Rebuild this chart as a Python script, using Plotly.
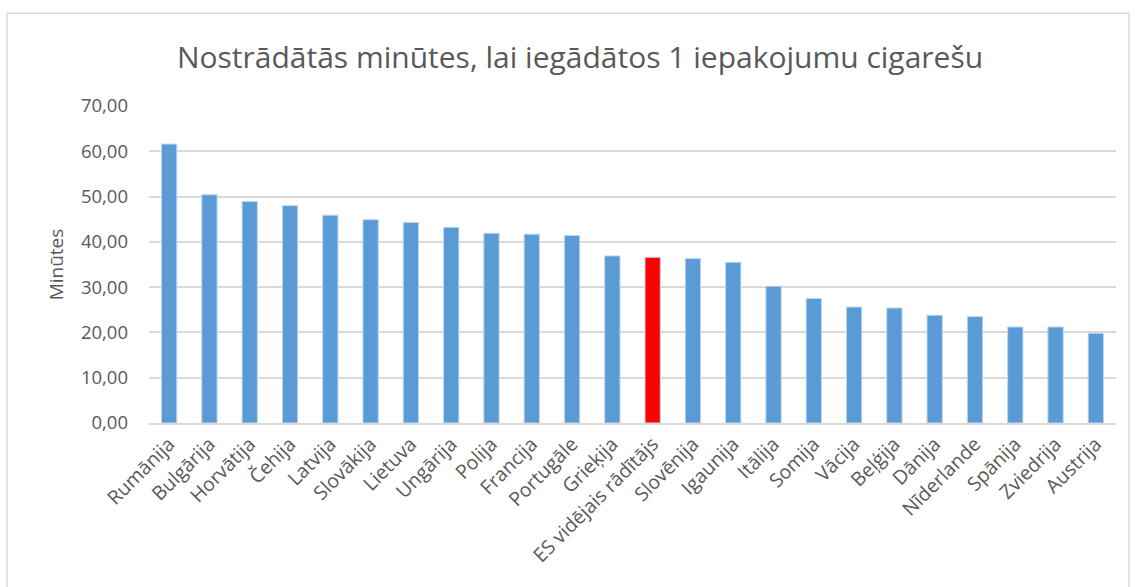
import plotly.graph_objects as go

categories = ["Rumānija", "Bulgārija", "Horvātija", "Čehija", "Latvija", "Slovākija",
              "Lietuva", "Ungārija", "Polija", "Francija", "Portugāle", "Grieķija",
              "ES vidējais rādītājs", "Slovēnija", "Igaunija", "Itālija", "Somija",
              "Vācija", "Beļģija", "Dānija", "Nīderlande", "Spānija", "Zviedrija", "Austrija"]
values = [61.6, 50.4, 48.9, 48.0, 45.9, 44.9, 44.3, 43.2, 41.9, 41.7, 41.4, 36.9,
          36.6, 36.3, 35.5, 30.2, 27.5, 25.6, 25.4, 23.8, 23.5, 21.2, 21.2, 19.8]
highlight = "ES vidējais rādītājs"

colors = ["#FF0000" if c == highlight else "#5B9BD5" for c in categories]

FONT = "Open Sans"
GREY = "#595959"

fig = go.Figure(go.Bar(
    x=categories, y=values,
    marker=dict(color=colors, line=dict(color="#BDD7EE", width=1)),
    width=0.38,
))

L, R, T, B = 149, 19, 106, 163.5
W, H = 1135, 587
pw, ph = W - L - R, H - T - B

fig.update_layout(
    width=W, height=H,
    margin=dict(l=L, r=R, t=T, b=B, autoexpand=False),
    paper_bgcolor="white", plot_bgcolor="white",
    separators=", ",
    showlegend=False,
    title=dict(text="Nostrādātās minūtes, lai iegādātos 1 iepakojumu cigarešu",
               x=580 / W, xanchor="center", xref="container",
               y=1 - 57 / H, yanchor="middle", yref="container",
               font=dict(family=FONT, size=30, color=GREY)),
    font=dict(family=FONT, color=GREY),
    xaxis=dict(tickangle=-45, tickfont=dict(size=19.5, color=GREY),
               showline=True, linecolor="#D9D9D9", linewidth=2,
               ticks="", showgrid=False, automargin=False),
    yaxis=dict(range=[0, 70], dtick=10, tickformat=".2f",
               tickfont=dict(size=18.5, color=GREY),
               gridcolor="#D9D9D9", gridwidth=1.5, zeroline=False,
               ticklabelstandoff=20, automargin=False,
               title=dict(text="Minūtes", font=dict(size=19, color=GREY), standoff=12)),
    shapes=[dict(type="rect", xref="paper", yref="paper",
                 x0=(7 - L) / pw, x1=(1129 - L) / pw,
                 y0=(H - B - 600) / ph, y1=(H - B - 13) / ph,
                 line=dict(color="#D9D9D9", width=1.5), layer="below")],
)

fig.write_html("out.html", config={"displayModeBar": False},
               post_script="document.body.style.margin='0px';")
